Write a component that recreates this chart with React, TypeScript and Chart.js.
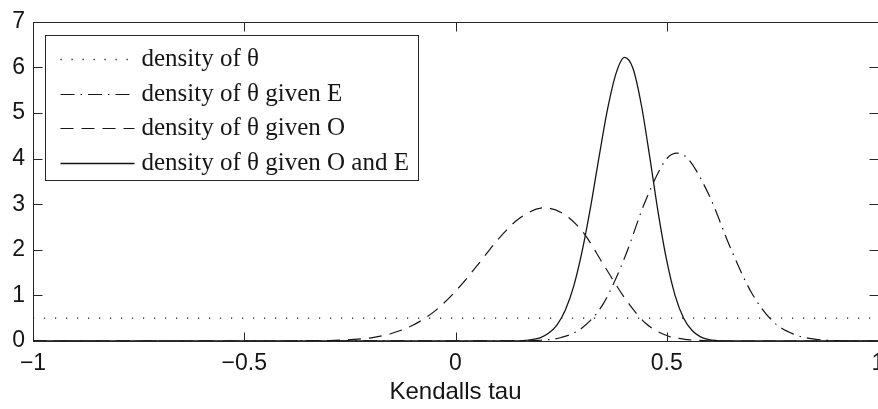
import React, { useEffect, useRef } from 'react';
import { Chart, registerables } from 'chart.js';

Chart.register(...registerables);

// ---- data ----
const xTickValues = [-1, -0.5, 0, 0.5, 1];
const yTickValues = [0, 1, 2, 3, 4, 5, 6, 7];
const xTitle = 'Kendalls tau';
const seriesNames = [
  'density of \u03B8',
  'density of \u03B8 given E',
  'density of \u03B8 given O',
  'density of \u03B8 given O and E',
];

const priorTau = [-1, 1];
const priorDensity = [0.5, 0.5];

const givenETau = [-1, 0.15, 0.2, 0.25, 0.3, 0.35, 0.4, 0.45, 0.5, 0.525, 0.55, 0.6, 0.65, 0.7, 0.75, 0.8, 0.85, 0.9, 0.95, 1];
const givenEDensity = [0, 0.002, 0.016, 0.076, 0.29, 0.82, 1.82, 3.08, 4.0, 4.12, 4.0, 3.2, 2.06, 1.07, 0.44, 0.15, 0.04, 0.01, 0.001, 0];

const givenOTau = [-1, -0.4, -0.35, -0.3, -0.25, -0.2, -0.15, -0.1, -0.05, 0, 0.05, 0.1, 0.15, 0.21, 0.25, 0.3, 0.35, 0.4, 0.45, 0.5, 0.55, 0.6, 0.65, 1];
const givenODensity = [0, 0, 0.003, 0.01, 0.03, 0.07, 0.17, 0.35, 0.65, 1.09, 1.64, 2.22, 2.68, 2.92, 2.82, 2.41, 1.68, 0.95, 0.39, 0.12, 0.03, 0.006, 0, 0];

const givenOETau = [-1, 0.14, 0.16, 0.18, 0.2, 0.22, 0.24, 0.26, 0.28, 0.3, 0.32, 0.34, 0.36, 0.38, 0.4, 0.42, 0.44, 0.46, 0.48, 0.5, 0.52, 0.54, 0.56, 0.58, 0.6, 0.62, 0.64, 1];
const givenOEDensity = [0, 0, 0.01, 0.03, 0.07, 0.17, 0.35, 0.68, 1.21, 1.98, 2.95, 4.05, 5.09, 5.87, 6.22, 5.98, 5.17, 4.02, 2.8, 1.76, 0.99, 0.5, 0.23, 0.09, 0.03, 0.01, 0, 0];

// ---- styles ----
const INK = '#151515';
const AXIS = '#262626';
const dashes = [[1.2, 9.8], [14, 6, 1.5, 6], [13, 8], []];
const widths = [1.3, 1.2, 1.2, 1.3];

const toPoints = (xs: number[], ys: number[]) => xs.map((x, i) => ({ x, y: ys[i] }));

const fmt = (v: number) => (v < 0 ? '\u2212' + String(Math.abs(v)) : String(v));

const framePlugin = {
  id: 'matlabFrame',
  afterDatasetsDraw(chart: any) {
    const { ctx, chartArea, scales } = chart;
    const L = Math.round(chartArea.left) + 0.5;
    const R = Math.round(chartArea.right) + 0.5;
    const T = Math.round(chartArea.top) + 0.5;
    const B = Math.round(chartArea.bottom) + 0.5;
    ctx.save();
    ctx.setLineDash([]);
    ctx.strokeStyle = AXIS;
    ctx.lineWidth = 1;
    ctx.strokeRect(L, T, R - L, B - T);
    const tl = 9;
    ctx.beginPath();
    for (const v of xTickValues) {
      const px = Math.round(scales.x.getPixelForValue(v)) + 0.5;
      ctx.moveTo(px, B);
      ctx.lineTo(px, B - tl);
      ctx.moveTo(px, T);
      ctx.lineTo(px, T + tl);
    }
    for (const v of yTickValues) {
      const py = Math.round(scales.y.getPixelForValue(v)) + 0.5;
      ctx.moveTo(L, py);
      ctx.lineTo(L + tl, py);
      ctx.moveTo(R, py);
      ctx.lineTo(R - tl, py);
    }
    ctx.stroke();
    ctx.restore();
  },
};

const legendPlugin = {
  id: 'matlabLegend',
  afterDraw(chart: any) {
    const { ctx, chartArea } = chart;
    const bx = Math.round(chartArea.left) + 12.5;
    const by = Math.round(chartArea.top) + 13.5;
    const bw = 373;
    const bh = 145;
    ctx.save();
    ctx.fillStyle = '#ffffff';
    ctx.fillRect(bx, by, bw, bh);
    ctx.setLineDash([]);
    ctx.strokeStyle = AXIS;
    ctx.lineWidth = 1;
    ctx.strokeRect(bx, by, bw, bh);
    ctx.font = "25px 'Liberation Serif', 'Times New Roman', serif";
    ctx.textBaseline = 'alphabetic';
    ctx.textAlign = 'left';
    for (let i = 0; i < seriesNames.length; i++) {
      const base = by + 30.5 + i * 34.5;
      const ly = Math.round(base - 7) + 0.5;
      ctx.beginPath();
      ctx.setLineDash(dashes[i]);
      ctx.lineWidth = widths[i];
      ctx.strokeStyle = INK;
      ctx.moveTo(bx + 15, ly);
      ctx.lineTo(bx + 89, ly);
      ctx.stroke();
      ctx.setLineDash([]);
      ctx.fillStyle = INK;
      ctx.fillText(seriesNames[i], bx + 96, base);
    }
    ctx.restore();
  },
};

export default function App() {
  const canvasRef = useRef<HTMLCanvasElement | null>(null);

  useEffect(() => {
    const canvas = canvasRef.current;
    if (!canvas) return;
    const sets = [
      toPoints(priorTau, priorDensity),
      toPoints(givenETau, givenEDensity),
      toPoints(givenOTau, givenODensity),
      toPoints(givenOETau, givenOEDensity),
    ];
    const chart = new Chart(canvas, {
      type: 'line',
      data: {
        datasets: sets.map((d, i) => ({
          label: seriesNames[i],
          data: d,
          borderColor: INK,
          borderWidth: widths[i],
          borderDash: dashes[i],
          borderCapStyle: 'butt',
          pointRadius: 0,
          fill: false,
          cubicInterpolationMode: 'monotone',
        })),
      },
      options: {
        animation: false,
        responsive: false,
        maintainAspectRatio: false,
        events: [],
        layout: { padding: { left: 0, top: 13, right: 22, bottom: 0 } },
        plugins: { legend: { display: false }, tooltip: { enabled: false } },
        scales: {
          x: {
            type: 'linear',
            min: -1,
            max: 1,
            afterFit: (s: any) => {
              s.height = 68;
            },
            afterBuildTicks: (s: any) => {
              s.ticks = xTickValues.map((v) => ({ value: v }));
            },
            grid: { display: false, drawTicks: false },
            border: { display: false },
            ticks: {
              padding: 9,
              color: INK,
              maxRotation: 0,
              autoSkip: false,
              font: { family: "'Liberation Sans', Arial, sans-serif", size: 23 },
              callback: (v: any) => fmt(Number(v)),
            },
            title: {
              display: true,
              text: xTitle,
              color: INK,
              padding: { top: 0, bottom: 2 },
              font: { family: "'Liberation Sans', Arial, sans-serif", size: 24 },
            },
          },
          y: {
            type: 'linear',
            min: 0,
            max: 7,
            afterFit: (s: any) => {
              s.width = 33;
            },
            afterBuildTicks: (s: any) => {
              s.ticks = yTickValues.map((v) => ({ value: v }));
            },
            grid: { display: false, drawTicks: false },
            border: { display: false },
            ticks: {
              padding: 8,
              color: INK,
              autoSkip: false,
              font: { family: "'Liberation Sans', Arial, sans-serif", size: 23 },
              callback: (v: any) => fmt(Number(v)),
            },
          },
        },
      },
      plugins: [framePlugin, legendPlugin],
    } as any);
    return () => chart.destroy();
  }, []);

  return (
    <div
      style={{
        position: 'absolute',
        left: 0,
        top: 0,
        width: 878,
        height: 409,
        overflow: 'hidden',
        background: '#ffffff',
      }}
    >
      <canvas ref={canvasRef} width={900} height={409} style={{ display: 'block' }} />
    </div>
  );
}
